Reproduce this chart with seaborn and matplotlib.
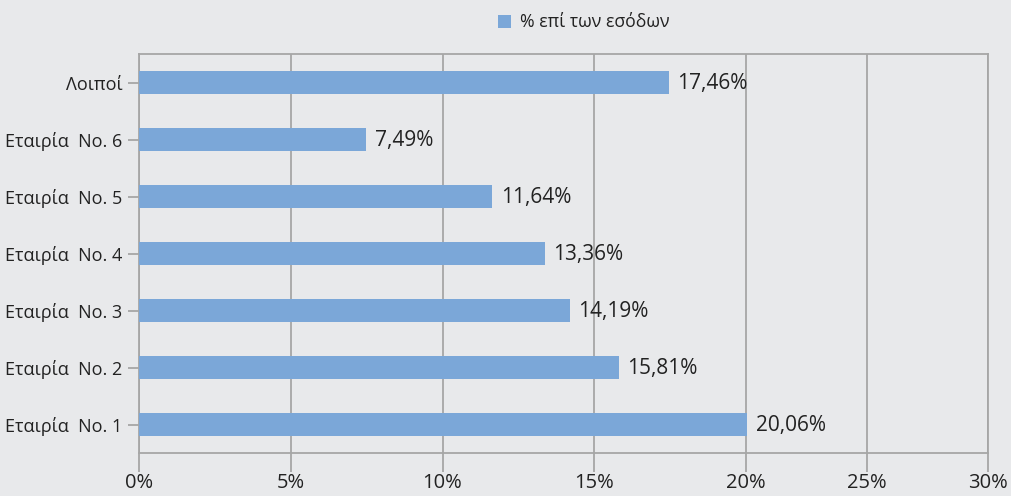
import matplotlib
matplotlib.use("Agg")
import matplotlib.pyplot as plt
import seaborn as sns
import pandas as pd
import numpy as np
from matplotlib.patches import Patch
from matplotlib.ticker import FuncFormatter

categories = ["Λοιποί", "Εταιρία  No. 6", "Εταιρία  No. 5", "Εταιρία  No. 4",
              "Εταιρία  No. 3", "Εταιρία  No. 2", "Εταιρία  No. 1"]
values = [17.46, 7.49, 11.64, 13.36, 14.19, 15.81, 20.06]
value_labels = ["17,46%", "7,49%", "11,64%", "13,36%", "14,19%", "15,81%", "20,06%"]
x_ticks = [0, 5, 10, 15, 20, 25, 30]
series_name = "% επί των εσόδων"

bg = "#E8E9EB"
bar_color = "#7BA7D8"
grid_color = "#A6A6A6"
text_color = "#222222"

sns.set_theme(style="white")
plt.rcParams["font.family"] = ["Open Sans", "DejaVu Sans"]

# the reference axis is compressed above 20%
BREAK = 20.0
K = 24.2 / 30.35


def fwd(x):
    x = np.asarray(x, dtype=float)
    return np.where(x <= BREAK, x, BREAK + (x - BREAK) * K)


def inv(y):
    y = np.asarray(y, dtype=float)
    return np.where(y <= BREAK, y, BREAK + (y - BREAK) / K)


df = pd.DataFrame({"cat": categories, "val": values})

fig = plt.figure(figsize=(10.12, 4.96), dpi=100, facecolor=bg)
ax = fig.add_axes([0.1374, 0.0867, 0.9763 - 0.1374, 0.891 - 0.0867])
ax.set_facecolor(bg)

sns.barplot(data=df, x="val", y="cat", orient="h", color=bar_color,
            saturation=1, width=0.4, linewidth=0, ax=ax, zorder=3)

ax.set_xscale("function", functions=(fwd, inv))
ax.set_xlim(0, 30)
ax.set_ylim(len(categories) - 0.5, -0.5)
ax.set_xticks(x_ticks)
ax.xaxis.set_major_formatter(FuncFormatter(lambda v, p: f"{v:.0f}%"))
ax.xaxis.set_minor_locator(matplotlib.ticker.NullLocator())
ax.grid(axis="x", which="major", color=grid_color, linewidth=1.3, zorder=0)
ax.grid(axis="y", visible=False)
for s in ax.spines.values():
    s.set_color(grid_color)
    s.set_linewidth(1.3)

ax.tick_params(axis="x", length=14, width=1.3, color=grid_color, labelsize=14.5,
               labelcolor=text_color, pad=0.5, bottom=True)
ax.tick_params(axis="y", length=8, width=1.3, color=grid_color, labelsize=13,
               labelcolor=text_color, pad=4, left=True)
ax.set_xlabel("")
ax.set_ylabel("")

for i, (v, lab) in enumerate(zip(values, value_labels)):
    ax.annotate(lab, xy=(v, i), xytext=(6, -1), textcoords="offset points",
                ha="left", va="center", fontsize=15, color=text_color, zorder=4)

handles = [Patch(facecolor=bar_color, edgecolor="none", label=series_name)]
fig.legend(handles=handles, loc="center", bbox_to_anchor=(0.577, 0.955),
           frameon=False, fontsize=12.7, handlelength=0.75, handleheight=0.75,
           handletextpad=0.5, labelcolor=text_color)

fig.savefig("out.png", dpi=100, facecolor=bg)
